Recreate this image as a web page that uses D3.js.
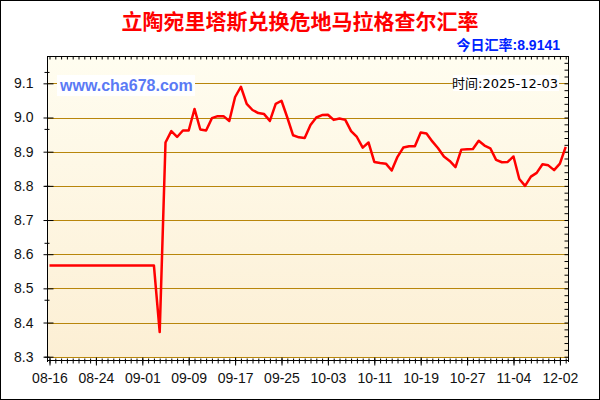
<!DOCTYPE html>
<html lang="zh">
  <head>
    <meta charset="UTF-8" />
    <title>汇率走势</title>
    <script src="https://cdn.jsdelivr.net/npm/d3@7"></script>
    <style>
      body { margin: 0; background: #fff; }
      svg { display: block; }
    </style>
  </head>
  <body>
    <div id="container"></div>
    <script>
      // data, one value per day
      const rates = [
        8.567, 8.567, 8.567, 8.567, 8.567, 8.567, 8.567, 8.567, 8.567, 8.567,
        8.567, 8.567, 8.567, 8.567, 8.567, 8.567, 8.567, 8.567, 8.567, 8.372,
        8.927, 8.960, 8.943, 8.962, 8.962, 9.025, 8.965, 8.962, 8.998, 9.004,
        9.004, 8.990, 9.060, 9.090, 9.040, 9.022, 9.013, 9.010, 8.990, 9.040,
        9.049, 9.000, 8.948, 8.942, 8.940, 8.978, 9.000, 9.007, 9.008, 8.993,
        8.997, 8.993, 8.960, 8.943, 8.912, 8.927, 8.870, 8.867, 8.865, 8.845,
        8.885, 8.912, 8.916, 8.916, 8.956, 8.953, 8.930, 8.910, 8.886, 8.873,
        8.855, 8.906, 8.907, 8.908, 8.932, 8.918, 8.910, 8.876, 8.869, 8.870,
        8.886, 8.820, 8.800, 8.827, 8.838, 8.863, 8.860, 8.846, 8.865, 8.914
      ]
      const tickIndex = [0, 8, 16, 24, 32, 40, 48, 56, 64, 72, 80, 88]
      const tickLabels = ['08-16', '08-24', '09-01', '09-09', '09-17', '09-25',
                          '10-03', '10-11', '10-19', '10-27', '11-04', '12-02']
      const yTicks = [8.3, 8.4, 8.5, 8.6, 8.7, 8.8, 8.9, 9.0, 9.1]
      const title = '立陶宛里塔斯兑换危地马拉格查尔汇率'
      const todayText = '今日汇率:8.9141'
      const siteText = 'www.cha678.com'
      const timeText = '时间:2025-12-03'

      const width = 600
      const height = 400
      const plotLeft = 47, plotRight = 568, plotTop = 56, plotBottom = 357

      const xScale = d3.scaleLinear()
        .domain([0, rates.length - 1])
        .range([49.5, 565.7])
      const yScale = d3.scaleLinear()
        .domain([8.3, 9.18])
        .range([356.7, 56])

      const svg = d3.select('#container').append('svg')
        .attr('width', width)
        .attr('height', height)
        .attr('viewBox', [0, 0, width, height])

      // background gradient of the plot
      const grad = svg.append('defs').append('linearGradient')
        .attr('id', 'bg').attr('x1', 0).attr('y1', 0).attr('x2', 0).attr('y2', 1)
      grad.append('stop').attr('offset', '0%').attr('stop-color', '#fffdf0')
      grad.append('stop').attr('offset', '100%').attr('stop-color', '#fcefd4')

      svg.append('rect')
        .attr('x', plotLeft).attr('y', plotTop)
        .attr('width', plotRight - plotLeft).attr('height', plotBottom - plotTop)
        .attr('fill', 'url(#bg)')

      // outer frame
      svg.append('rect')
        .attr('x', 0.5).attr('y', 0.5)
        .attr('width', width - 1).attr('height', height - 1)
        .attr('fill', 'none').attr('stroke', '#000')

      // grid lines
      svg.append('g')
        .selectAll('line')
        .data(yTicks)
        .join('line')
        .attr('x1', plotLeft).attr('x2', plotRight)
        .attr('y1', d => Math.round(yScale(d)) + 0.5)
        .attr('y2', d => Math.round(yScale(d)) + 0.5)
        .attr('stroke', '#b8860b')
        .attr('stroke-width', 1.2)

      const days = d3.range(rates.length)
      const minorY = d3.range(830, 918, 100 / 6).map(v => v / 100)
      const minorYRight = d3.range(830, 918, 2).map(v => v / 100)

      // left axis
      const gLeft = svg.append('g')
        .attr('transform', `translate(${plotLeft + 0.5},0)`)
        .call(d3.axisLeft(yScale).tickValues(minorY).tickSize(3).tickSizeOuter(0).tickFormat(''))
      gLeft.selectAll('.tick line').attr('x1', 2)
      gLeft.select('.domain').remove()
      const gLeftMaj = svg.append('g')
        .attr('transform', `translate(${plotLeft + 0.5},0)`)
        .call(d3.axisLeft(yScale).tickValues(yTicks).tickSize(4).tickSizeOuter(0)
          .tickPadding(10).tickFormat(d3.format('.1f')))
      gLeftMaj.selectAll('.tick line').attr('x1', 6)
      gLeftMaj.select('.domain').remove()
      gLeftMaj.selectAll('text')
        .attr('font-family', 'Arial, "Liberation Sans", sans-serif')
        .attr('font-size', 14).attr('fill', '#111')

      // right border with ticks
      const gRight = svg.append('g')
        .attr('transform', `translate(${plotRight + 0.5},0)`)
        .call(d3.axisLeft(yScale).tickValues(minorYRight).tickSize(4).tickSizeOuter(0).tickFormat(''))
      gRight.select('.domain').remove()

      // top border with ticks
      const gTop = svg.append('g')
        .attr('transform', `translate(0,${plotTop + 0.5})`)
        .call(d3.axisBottom(xScale).tickValues(days).tickSize(3).tickSizeOuter(0).tickFormat(''))
      gTop.select('.domain').remove()

      // frame lines of plot
      svg.append('line').attr('x1', plotLeft + 0.5).attr('x2', plotLeft + 0.5)
        .attr('y1', plotTop).attr('y2', 362).attr('stroke', '#000')
      svg.append('line').attr('x1', plotRight + 0.5).attr('x2', plotRight + 0.5)
        .attr('y1', plotTop).attr('y2', 362).attr('stroke', '#000')
      svg.append('line').attr('x1', plotLeft).attr('x2', plotRight + 1)
        .attr('y1', plotTop + 0.5).attr('y2', plotTop + 0.5).attr('stroke', '#000')
      svg.append('line').attr('x1', plotLeft).attr('x2', plotRight + 1)
        .attr('y1', 360.5).attr('y2', 360.5).attr('stroke', '#000')

      // bottom axis
      const gBot = svg.append('g')
        .attr('transform', 'translate(0,360.5)')
        .call(d3.axisBottom(xScale).tickValues(days).tickSize(3).tickSizeOuter(0).tickFormat(''))
      gBot.selectAll('.tick line').attr('y1', -2)
      gBot.select('.domain').remove()
      const gBotMaj = svg.append('g')
        .attr('transform', 'translate(0,360.5)')
        .call(d3.axisBottom(xScale).tickValues(tickIndex).tickSize(5).tickSizeOuter(0)
          .tickPadding(8).tickFormat((d, i) => tickLabels[i]))
      gBotMaj.selectAll('.tick line').attr('y1', -3)
      gBotMaj.select('.domain').remove()
      gBotMaj.selectAll('text')
        .attr('font-family', 'Arial, "Liberation Sans", sans-serif')
        .attr('font-size', 14).attr('fill', '#111')

      // rate line
      const line = d3.line()
        .x((d, i) => xScale(i))
        .y(d => yScale(d))
      svg.append('path')
        .datum(rates)
        .attr('fill', 'none')
        .attr('stroke', '#ff0000')
        .attr('stroke-width', 2.5)
        .attr('stroke-linejoin', 'round')
        .attr('d', line)

      // labels
      svg.append('text')
        .attr('x', 300).attr('y', 29)
        .attr('text-anchor', 'middle')
        .attr('font-family', '"Noto Sans CJK SC", sans-serif')
        .attr('font-weight', 'bold')
        .attr('font-size', 21)
        .attr('fill', '#ff0000')
        .text(title)

      svg.append('text')
        .attr('x', 560).attr('y', 50)
        .attr('text-anchor', 'end')
        .attr('font-family', 'Arial, "Noto Sans CJK SC", sans-serif')
        .attr('font-weight', 'bold')
        .attr('font-size', 14)
        .attr('fill', '#0022ff')
        .text(todayText)

      svg.append('rect')
        .attr('x', 57).attr('y', 75).attr('width', 138).attr('height', 21)
        .attr('fill', '#fff')
      svg.append('text')
        .attr('x', 60).attr('y', 91)
        .attr('font-family', 'Arial, "Liberation Sans", sans-serif')
        .attr('font-weight', 'bold')
        .attr('font-size', 16)
        .attr('fill', '#5a7af5')
        .text(siteText)

      svg.append('rect')
        .attr('x', 453).attr('y', 75).attr('width', 106).attr('height', 16)
        .attr('fill', '#fff')
      svg.append('text')
        .attr('x', 558).attr('y', 88)
        .attr('text-anchor', 'end')
        .attr('font-family', '"DejaVu Sans", "Noto Sans CJK SC", sans-serif')
        .attr('font-size', 13)
        .attr('fill', '#000')
        .text(timeText)
    </script>
  </body>
</html>
